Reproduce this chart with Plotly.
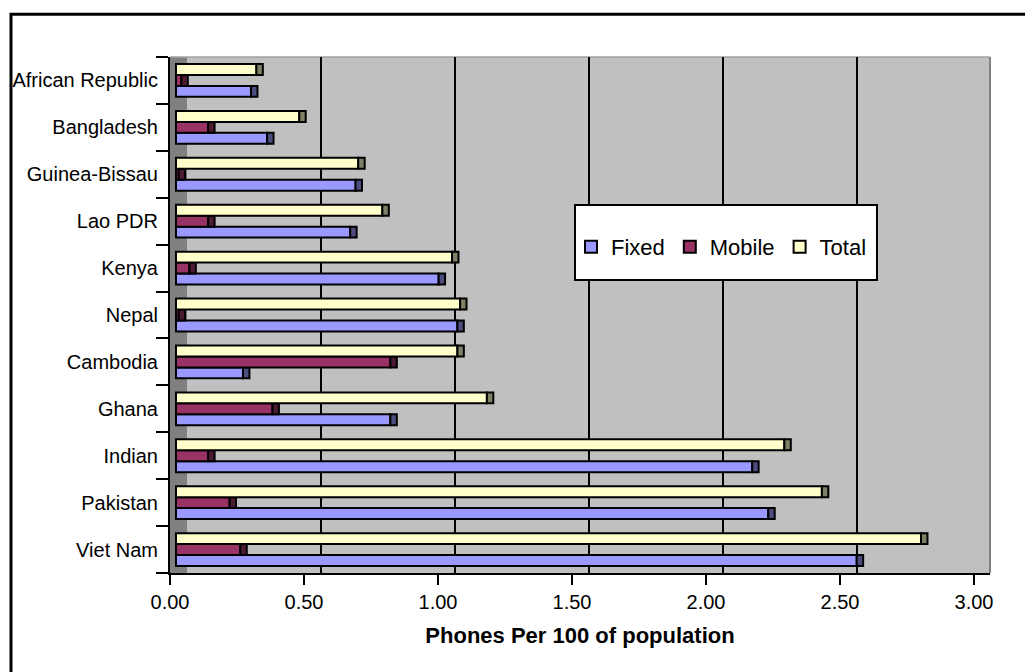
import plotly.graph_objects as go

# ---- data -------------------------------------------------------------
countries = ["Viet Nam", "Pakistan", "Indian", "Ghana", "Cambodia", "Nepal",
             "Kenya", "Lao PDR", "Guinea-Bissau", "Bangladesh", "African Republic"]
fixed = [2.54, 2.21, 2.15, 0.80, 0.25, 1.05, 0.98, 0.65, 0.67, 0.34, 0.28]
mobile = [0.24, 0.20, 0.12, 0.36, 0.80, 0.01, 0.05, 0.12, 0.01, 0.12, 0.02]
total = [2.78, 2.41, 2.27, 1.16, 1.05, 1.06, 1.03, 0.77, 0.68, 0.46, 0.30]
x_ticks = [0, 0.5, 1.0, 1.5, 2.0, 2.5, 3.0]
x_title = "Phones Per 100 of population"

# ---- geometry / style ---------------------------------------------------
W, H = 1025, 672
L, R, T, B = 170, 35, 57, 99
PW, PH = W - L - R, H - T - B
PX_PER_UNIT = 268.0
BAR_SHIFT = 6      # px: bars sit a little behind the front plane
GRID_SHIFT = 17    # px: back wall sits further behind
CAP_DEPTH = 0.024  # depth face drawn at the end of each bar

FONT = "Arial, Liberation Sans, sans-serif"
series = [
    ("Fixed", fixed, "#9999FF", "#4D4D80"),
    ("Mobile", mobile, "#993366", "#4D1A33"),
    ("Total", total, "#FFFFCC", "#808066"),
]


def shifted_range(shift_px):
    lo = -shift_px / PX_PER_UNIT
    return [lo, lo + PW / PX_PER_UNIT]


def px_x(px):
    return (px - L) / PW


def px_y(py):
    return (H - B - py) / PH


fig = go.Figure()
for i, (name, vals, col, cap_col) in enumerate(series):
    fig.add_trace(go.Bar(
        y=countries, x=vals, orientation="h", name=name,
        offsetgroup=str(i), marker=dict(color=col, line=dict(color="black", width=2)),
    ))
    fig.add_trace(go.Bar(
        y=countries, x=[CAP_DEPTH] * len(vals), base=vals, orientation="h",
        offsetgroup=str(i), showlegend=False, hoverinfo="skip",
        marker=dict(color=cap_col, line=dict(color="black", width=2)),
    ))

# empty carriers so the front-plane and back-wall axes get drawn
for ax in ("x2", "x3"):
    fig.add_trace(go.Scatter(x=[], y=[], xaxis=ax, yaxis="y", mode="markers",
                             showlegend=False, hoverinfo="skip"))

shapes = [
    # left side wall
    dict(type="rect", xref="paper", yref="paper", x0=0, x1=px_x(L + GRID_SHIFT), y0=0, y1=1,
         fillcolor="#808080", line=dict(width=0), layer="below"),
    # back wall edges
    dict(type="line", xref="paper", yref="paper", x0=1, x1=1, y0=0, y1=1,
         line=dict(color="#808080", width=2), layer="below"),
    dict(type="line", xref="paper", yref="paper", x0=0, x1=1, y0=1, y1=1,
         line=dict(color="#A0A0A0", width=1.5), layer="below"),
    # legend box
    dict(type="rect", xref="paper", yref="paper", x0=px_x(575), x1=px_x(877),
         y0=px_y(280), y1=px_y(205), fillcolor="white", line=dict(color="black", width=2),
         layer="above"),
    # chart frame
    dict(type="rect", xref="paper", yref="paper", x0=px_x(11), x1=px_x(W + 20),
         y0=px_y(H + 20), y1=px_y(14.3), line=dict(color="black", width=3), layer="above"),
]

fig.update_layout(
    width=W, height=H,
    margin=dict(l=L, r=R, t=T, b=B, pad=0),
    paper_bgcolor="white", plot_bgcolor="#C0C0C0",
    barmode="group", bargap=0.3, bargroupgap=0,
    font=dict(family=FONT, size=20, color="black"),
    showlegend=True,
    legend=dict(orientation="h", x=px_x(571), xanchor="left", y=px_y(247), yanchor="middle",
                bgcolor="rgba(0,0,0,0)", borderwidth=0, font=dict(size=22),
                traceorder="normal"),
    shapes=shapes,
    # axis carrying the bars
    xaxis=dict(range=shifted_range(BAR_SHIFT), showgrid=False, zeroline=False,
               showticklabels=False, ticks="", showline=False),
    # front plane axis with tick labels
    xaxis2=dict(overlaying="x", anchor="y", side="bottom", range=shifted_range(0),
                tickvals=x_ticks, tickformat=".2f", ticks="outside", ticklen=10,
                tickwidth=2, tickcolor="black", showline=True, linecolor="black",
                linewidth=2, showgrid=False, zeroline=False,
                tickfont=dict(size=20),
                title=dict(text="<b>" + x_title + "</b>", font=dict(size=22), standoff=16)),
    # back wall axis with grid lines
    xaxis3=dict(overlaying="x", anchor="y", range=shifted_range(GRID_SHIFT),
                tickvals=x_ticks[1:-1], showgrid=True, gridcolor="black", gridwidth=1.5,
                showticklabels=False, ticks="", zeroline=False, showline=False),
    yaxis=dict(type="category", categoryorder="array", categoryarray=countries,
               range=[-0.5, len(countries) - 0.5], tickson="boundaries",
               ticks="outside", ticklen=12, tickwidth=2, tickcolor="black",
               ticklabelstandoff=6,
               showline=True, linecolor="black", linewidth=2, showgrid=False,
               zeroline=False, tickfont=dict(size=20)),
)

fig.write_html("out.html")
